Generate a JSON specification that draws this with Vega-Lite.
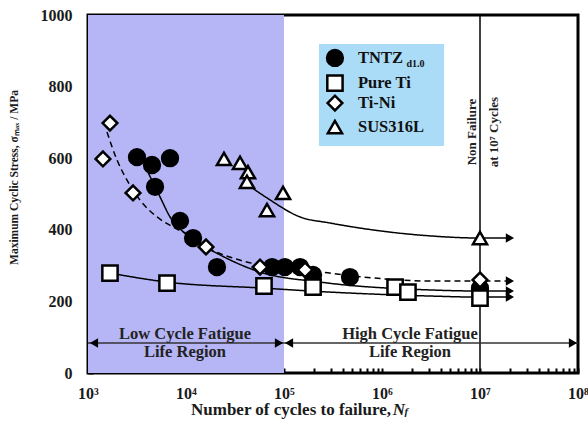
{
  "$schema": "https://vega.github.io/schema/vega-lite/v6.json",
  "width": 490,
  "height": 358,
  "autosize": {"type": "none"},
  "padding": {"left": 88, "top": 15, "right": 10, "bottom": 62},
  "background": "white",
  "config": {
    "view": {"stroke": "black", "strokeWidth": 3},
    "font": "Liberation Serif"
  },
  "datasets": {
    "shade": [{"n": 1000, "n2": 100000, "s": 0, "s2": 1000}],
    "legbox": [{"n": 227500, "n2": 4300000, "s": 634, "s2": 919}],
    "vline": [{"n": 10000000, "s": 0, "s2": 1000}],
    "curves": [
      {"series": "SUS316L", "o": 1, "n": 42900, "s": 525},
      {"series": "SUS316L", "o": 2, "n": 67100, "s": 489},
      {"series": "SUS316L", "o": 3, "n": 145600, "s": 436},
      {"series": "SUS316L", "o": 4, "n": 294000, "s": 419},
      {"series": "SUS316L", "o": 5, "n": 955000, "s": 397},
      {"series": "SUS316L", "o": 6, "n": 3090000, "s": 383},
      {"series": "SUS316L", "o": 7, "n": 10000000, "s": 377},
      {"series": "SUS316L", "o": 8, "n": 19000000, "s": 377},
      {"series": "TNTZ", "o": 1, "n": 4090, "s": 561},
      {"series": "TNTZ", "o": 2, "n": 5430, "s": 492},
      {"series": "TNTZ", "o": 3, "n": 6870, "s": 436},
      {"series": "TNTZ", "o": 4, "n": 10990, "s": 380},
      {"series": "TNTZ", "o": 5, "n": 22230, "s": 330},
      {"series": "TNTZ", "o": 6, "n": 56900, "s": 282},
      {"series": "TNTZ", "o": 7, "n": 232700, "s": 254},
      {"series": "TNTZ", "o": 8, "n": 3090000, "s": 232},
      {"series": "TNTZ", "o": 9, "n": 10000000, "s": 229},
      {"series": "TNTZ", "o": 10, "n": 19000000, "s": 229},
      {"series": "Ti-Ni", "o": 1, "n": 1563, "s": 673},
      {"series": "Ti-Ni", "o": 2, "n": 1977, "s": 595},
      {"series": "Ti-Ni", "o": 3, "n": 2500, "s": 539},
      {"series": "Ti-Ni", "o": 4, "n": 3396, "s": 483},
      {"series": "Ti-Ni", "o": 5, "n": 5060, "s": 436},
      {"series": "Ti-Ni", "o": 6, "n": 7360, "s": 408},
      {"series": "Ti-Ni", "o": 7, "n": 10990, "s": 383},
      {"series": "Ti-Ni", "o": 8, "n": 15990, "s": 352},
      {"series": "Ti-Ni", "o": 9, "n": 30170, "s": 321},
      {"series": "Ti-Ni", "o": 10, "n": 56900, "s": 302},
      {"series": "Ti-Ni", "o": 11, "n": 163700, "s": 288},
      {"series": "Ti-Ni", "o": 12, "n": 640000, "s": 268},
      {"series": "Ti-Ni", "o": 13, "n": 3090000, "s": 257},
      {"series": "Ti-Ni", "o": 14, "n": 10000000, "s": 257},
      {"series": "Ti-Ni", "o": 15, "n": 19000000, "s": 257},
      {"series": "Pure Ti", "o": 1, "n": 1676, "s": 279},
      {"series": "Pure Ti", "o": 2, "n": 6400, "s": 254},
      {"series": "Pure Ti", "o": 3, "n": 62500, "s": 237},
      {"series": "Pure Ti", "o": 4, "n": 294000, "s": 226},
      {"series": "Pure Ti", "o": 5, "n": 3090000, "s": 215},
      {"series": "Pure Ti", "o": 6, "n": 10000000, "s": 212},
      {"series": "Pure Ti", "o": 7, "n": 19000000, "s": 212}
    ],
    "hline": [
      {"g": "low", "n": 1000, "s": 84},
      {"g": "low", "n": 100000, "s": 84},
      {"g": "high", "n": 100000, "s": 84},
      {"g": "high", "n": 100000000, "s": 84}
    ],
    "heads": [
      {"n": 20200000, "s": 377, "dir": "right"},
      {"n": 20200000, "s": 257, "dir": "right"},
      {"n": 20200000, "s": 229, "dir": "right"},
      {"n": 20200000, "s": 212, "dir": "right"},
      {"n": 1151, "s": 84, "dir": "left"},
      {"n": 88900, "s": 84, "dir": "right"},
      {"n": 112500, "s": 84, "dir": "left"},
      {"n": 88900000, "s": 84, "dir": "right"}
    ],
    "points": [
      {"series": "TNTZ", "n": 3162, "s": 603},
      {"series": "TNTZ", "n": 4500, "s": 581},
      {"series": "TNTZ", "n": 4830, "s": 520},
      {"series": "TNTZ", "n": 6870, "s": 600},
      {"series": "TNTZ", "n": 8690, "s": 425},
      {"series": "TNTZ", "n": 11800, "s": 377},
      {"series": "TNTZ", "n": 20700, "s": 296},
      {"series": "TNTZ", "n": 75500, "s": 296},
      {"series": "TNTZ", "n": 102000, "s": 296},
      {"series": "TNTZ", "n": 146000, "s": 296},
      {"series": "TNTZ", "n": 198000, "s": 274},
      {"series": "TNTZ", "n": 471000, "s": 268},
      {"series": "TNTZ", "n": 10000000, "s": 237},
      {"series": "Pure Ti", "n": 1676, "s": 279},
      {"series": "Pure Ti", "n": 6400, "s": 251},
      {"series": "Pure Ti", "n": 62500, "s": 243},
      {"series": "Pure Ti", "n": 198000, "s": 240},
      {"series": "Pure Ti", "n": 1360000, "s": 240},
      {"series": "Pure Ti", "n": 1840000, "s": 226},
      {"series": "Pure Ti", "n": 10000000, "s": 209},
      {"series": "Ti-Ni", "n": 1676, "s": 698},
      {"series": "Ti-Ni", "n": 1420, "s": 598},
      {"series": "Ti-Ni", "n": 2880, "s": 503},
      {"series": "Ti-Ni", "n": 16000, "s": 352},
      {"series": "Ti-Ni", "n": 56900, "s": 296},
      {"series": "Ti-Ni", "n": 164000, "s": 288},
      {"series": "Ti-Ni", "n": 10000000, "s": 260},
      {"series": "SUS316L", "n": 24400, "s": 598},
      {"series": "SUS316L", "n": 35600, "s": 587},
      {"series": "SUS316L", "n": 42900, "s": 561},
      {"series": "SUS316L", "n": 41900, "s": 534},
      {"series": "SUS316L", "n": 67100, "s": 455},
      {"series": "SUS316L", "n": 97700, "s": 503},
      {"series": "SUS316L", "n": 10000000, "s": 377}
    ],
    "legpts": [
      {"series": "TNTZ", "n": 331000, "s": 880},
      {"series": "Pure Ti", "n": 331000, "s": 810},
      {"series": "Ti-Ni", "n": 331000, "s": 754},
      {"series": "SUS316L", "n": 331000, "s": 687}
    ],
    "legtext": [
      {"n": 569000, "s": 880, "label": "TNTZ"},
      {"n": 569000, "s": 810, "label": "Pure Ti"},
      {"n": 569000, "s": 754, "label": "Ti-Ni"},
      {"n": 569000, "s": 687, "label": "SUS316L"}
    ],
    "legsub": [{"n": 1780000, "s": 863, "label": "d1.0"}],
    "regions": [
      {"n": 9770, "s": 109, "label": "Low Cycle Fatigue"},
      {"n": 9770, "s": 59, "label": "Life Region"},
      {"n": 1930000, "s": 109, "label": "High Cycle Fatigue"},
      {"n": 1930000, "s": 59, "label": "Life Region"}
    ],
    "vtext": [
      {"n": 8280000, "s": 673, "label": "Non Failure"},
      {"n": 13900000, "s": 673, "label": "at 10⁷ Cycles"}
    ],
    "xtitle": [{"n": 1236000, "s": -103, "label": "Number of cycles to failure,"}],
    "xtitleN": [{"n": 1290000, "s": -103, "label": "N"}],
    "xtitlef": [{"n": 1700000, "s": -109, "label": "f"}]
  },
  "encoding": {
    "x": {
      "field": "n",
      "type": "quantitative",
      "scale": {"type": "log", "domain": [1000, 100000000], "nice": false},
      "axis": {
        "title": null,
        "grid": false,
        "domain": false,
        "values": [1000,2000,3000,4000,5000,6000,7000,8000,9000,10000,20000,30000,40000,50000,60000,70000,80000,90000,100000,200000,300000,400000,500000,600000,700000,800000,900000,1000000,2000000,3000000,4000000,5000000,6000000,7000000,8000000,9000000,10000000,20000000,30000000,40000000,50000000,60000000,70000000,80000000,90000000,100000000],
        "labelExpr": "datum.value == 1000 ? '10³' : datum.value == 10000 ? '10⁴' : datum.value == 100000 ? '10⁵' : datum.value == 1000000 ? '10⁶' : datum.value == 10000000 ? '10⁷' : datum.value == 100000000 ? '10⁸' : ''",
        "tickSize": -5,
        "tickWidth": 2,
        "tickColor": "black",
        "labelPadding": 17,
        "labelFont": "Liberation Serif",
        "labelFontWeight": "bold",
        "labelFontSize": 16,
        "labelColor": "#1a1a1a",
        "labelFlush": false,
        "labelOverlap": false
      }
    },
    "y": {
      "field": "s",
      "type": "quantitative",
      "scale": {"domain": [0, 1000], "nice": false, "zero": false},
      "axis": {
        "title": "Maximum Cyclic Stress, σₘₐₓ / MPa",
        "titleFont": "Liberation Serif",
        "titleFontWeight": "bold",
        "titleFontSize": 11.5,
        "titleColor": "#1a1a1a",
        "titleX": -74,
        "titleY": 162,
        "titleAngle": -90,
        "titleAlign": "center",
        "titleBaseline": "middle",
        "grid": false,
        "domain": false,
        "values": [0,50,100,150,200,250,300,350,400,450,500,550,600,650,700,750,800,850,900,950,1000],
        "format": "d",
        "labelExpr": "datum.value % 200 == 0 ? datum.label : ''",
        "tickSize": -5,
        "tickWidth": 2,
        "tickColor": "black",
        "labelPadding": 21,
        "labelFont": "Liberation Serif",
        "labelFontWeight": "bold",
        "labelFontSize": 16,
        "labelColor": "#1a1a1a",
        "labelFlush": false,
        "labelOverlap": false
      }
    }
  },
  "layer": [
    {
      "data": {"name": "shade"},
      "mark": {"type": "rect", "fill": "#b6b6f6"},
      "encoding": {"x2": {"field": "n2"}, "y2": {"field": "s2"}}
    },
    {
      "data": {"name": "legbox"},
      "mark": {"type": "rect", "fill": "#aadcf8"},
      "encoding": {"x2": {"field": "n2"}, "y2": {"field": "s2"}}
    },
    {
      "data": {"name": "vline"},
      "mark": {"type": "rule", "color": "black", "strokeWidth": 1.5},
      "encoding": {"y2": {"field": "s2"}}
    },
    {
      "data": {"name": "curves"},
      "mark": {"type": "line", "color": "black", "strokeWidth": 1.5, "interpolate": "monotone"},
      "encoding": {
        "detail": {"field": "series"},
        "order": {"field": "o", "type": "quantitative"},
        "strokeDash": {
          "field": "series",
          "type": "nominal",
          "scale": {"domain": ["TNTZ", "Pure Ti", "Ti-Ni", "SUS316L"], "range": [[1, 0], [1, 0], [6, 4], [1, 0]]},
          "legend": null
        }
      }
    },
    {
      "data": {"name": "hline"},
      "mark": {"type": "line", "color": "#333333", "strokeWidth": 1.5},
      "encoding": {"detail": {"field": "g"}}
    },
    {
      "data": {"name": "heads"},
      "transform": [{"filter": "datum.dir == 'right'"}],
      "mark": {"type": "point", "shape": "triangle-right", "filled": true, "color": "black", "size": 90, "opacity": 1}
    },
    {
      "data": {"name": "heads"},
      "transform": [{"filter": "datum.dir == 'left'"}],
      "mark": {"type": "point", "shape": "triangle-left", "filled": true, "color": "black", "size": 90, "opacity": 1}
    },
    {
      "data": {"name": "points"},
      "mark": {"type": "point", "filled": false, "stroke": "black", "strokeWidth": 2.5, "opacity": 1},
      "encoding": {
        "shape": {
          "field": "series",
          "type": "nominal",
          "scale": {"domain": ["TNTZ", "Pure Ti", "Ti-Ni", "SUS316L"], "range": ["circle", "square", "diamond", "triangle-up"]},
          "legend": null
        },
        "fill": {
          "field": "series",
          "type": "nominal",
          "scale": {"domain": ["TNTZ", "Pure Ti", "Ti-Ni", "SUS316L"], "range": ["black", "white", "white", "white"]},
          "legend": null
        },
        "size": {
          "field": "series",
          "type": "nominal",
          "scale": {"domain": ["TNTZ", "Pure Ti", "Ti-Ni", "SUS316L"], "range": [250, 200, 150, 180]},
          "legend": null
        }
      }
    },
    {
      "data": {"name": "legpts"},
      "mark": {"type": "point", "filled": false, "stroke": "black", "strokeWidth": 2.5, "opacity": 1},
      "encoding": {
        "shape": {"field": "series", "type": "nominal", "legend": null},
        "fill": {"field": "series", "type": "nominal", "legend": null},
        "size": {"field": "series", "type": "nominal", "legend": null}
      }
    },
    {
      "data": {"name": "legtext"},
      "mark": {"type": "text", "align": "left", "baseline": "middle", "font": "Liberation Serif", "fontWeight": "bold", "fontSize": 16.5, "color": "#111"},
      "encoding": {"text": {"field": "label"}}
    },
    {
      "data": {"name": "legsub"},
      "mark": {"type": "text", "align": "left", "baseline": "middle", "font": "Liberation Serif", "fontWeight": "bold", "fontSize": 10, "color": "#111"},
      "encoding": {"text": {"field": "label"}}
    },
    {
      "data": {"name": "regions"},
      "mark": {"type": "text", "align": "center", "baseline": "middle", "font": "Liberation Serif", "fontWeight": "bold", "fontSize": 16.5, "color": "#222"},
      "encoding": {"text": {"field": "label"}}
    },
    {
      "data": {"name": "vtext"},
      "mark": {"type": "text", "align": "center", "baseline": "middle", "angle": 270, "font": "Liberation Serif", "fontWeight": "bold", "fontSize": 13, "color": "#222"},
      "encoding": {"text": {"field": "label"}}
    },
    {
      "data": {"name": "xtitle"},
      "mark": {"type": "text", "align": "right", "baseline": "middle", "font": "Liberation Serif", "fontWeight": "bold", "fontSize": 17, "color": "#1a1a1a"},
      "encoding": {"text": {"field": "label"}}
    },
    {
      "data": {"name": "xtitleN"},
      "mark": {"type": "text", "align": "left", "baseline": "middle", "font": "Liberation Serif", "fontWeight": "bold", "fontStyle": "italic", "fontSize": 17, "color": "#1a1a1a"},
      "encoding": {"text": {"field": "label"}}
    },
    {
      "data": {"name": "xtitlef"},
      "mark": {"type": "text", "align": "left", "baseline": "middle", "font": "Liberation Serif", "fontWeight": "bold", "fontStyle": "italic", "fontSize": 11, "color": "#1a1a1a"},
      "encoding": {"text": {"field": "label"}}
    }
  ]
}
